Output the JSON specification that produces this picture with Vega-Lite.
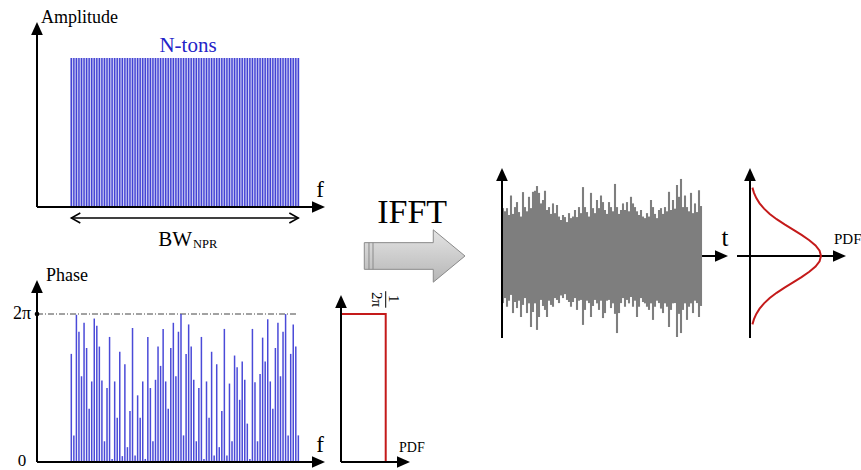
{
"$schema": "https://vega.github.io/schema/vega-lite/v6.json",
"width": 861, "height": 470, "padding": 0, "autosize": {"type": "none"},
"background": "white",
"config": {"view": {"stroke": null}, "text": {"font": "Liberation Serif", "color": "black"}},
"datasets": {
"tones": [
{"k":1,"amp":1,"phase":4.59},{"k":2,"amp":1,"phase":1.13},{"k":3,"amp":1,"phase":6.25},{"k":4,"amp":1,"phase":5.53},{"k":5,"amp":1,"phase":3.64},
{"k":6,"amp":1,"phase":5.91},{"k":7,"amp":1,"phase":4.84},{"k":8,"amp":1,"phase":2.26},{"k":9,"amp":1,"phase":3.42},{"k":10,"amp":1,"phase":6.09},
{"k":11,"amp":1,"phase":5.78},{"k":12,"amp":1,"phase":4.90},{"k":13,"amp":1,"phase":3.46},{"k":14,"amp":1,"phase":0.88},{"k":15,"amp":1,"phase":3.14},
{"k":16,"amp":1,"phase":5.31},{"k":17,"amp":1,"phase":0.13},{"k":18,"amp":1,"phase":3.42},{"k":19,"amp":1,"phase":1.88},{"k":20,"amp":1,"phase":4.68},
{"k":21,"amp":1,"phase":0.25},{"k":22,"amp":1,"phase":4.15},{"k":23,"amp":1,"phase":0.63},{"k":24,"amp":1,"phase":2.17},{"k":25,"amp":1,"phase":5.69},
{"k":26,"amp":1,"phase":0.28},{"k":27,"amp":1,"phase":2.83},{"k":28,"amp":1,"phase":1.88},{"k":29,"amp":1,"phase":3.42},{"k":30,"amp":1,"phase":0.13},
{"k":31,"amp":1,"phase":5.31},{"k":32,"amp":1,"phase":3.14},{"k":33,"amp":1,"phase":0.88},{"k":34,"amp":1,"phase":3.49},{"k":35,"amp":1,"phase":4.90},
{"k":36,"amp":1,"phase":4.08},{"k":37,"amp":1,"phase":5.65},{"k":38,"amp":1,"phase":3.42},{"k":39,"amp":1,"phase":2.26},{"k":40,"amp":1,"phase":4.84},
{"k":41,"amp":1,"phase":5.91},{"k":42,"amp":1,"phase":3.64},{"k":43,"amp":1,"phase":5.53},{"k":44,"amp":1,"phase":6.28},{"k":45,"amp":1,"phase":1.13},
{"k":46,"amp":1,"phase":4.59},{"k":47,"amp":1,"phase":5.84},{"k":48,"amp":1,"phase":4.90},{"k":49,"amp":1,"phase":3.49},{"k":50,"amp":1,"phase":0.88},
{"k":51,"amp":1,"phase":3.14},{"k":52,"amp":1,"phase":5.31},{"k":53,"amp":1,"phase":0.13},{"k":54,"amp":1,"phase":3.42},{"k":55,"amp":1,"phase":1.88},
{"k":56,"amp":1,"phase":4.68},{"k":57,"amp":1,"phase":0.28},{"k":58,"amp":1,"phase":4.15},{"k":59,"amp":1,"phase":0.63},{"k":60,"amp":1,"phase":2.17},
{"k":61,"amp":1,"phase":5.65},{"k":62,"amp":1,"phase":0.28},{"k":63,"amp":1,"phase":3.33},{"k":64,"amp":1,"phase":0.88},{"k":65,"amp":1,"phase":4.52},
{"k":66,"amp":1,"phase":4.02},{"k":67,"amp":1,"phase":2.64},{"k":68,"amp":1,"phase":4.27},{"k":69,"amp":1,"phase":3.49},{"k":70,"amp":1,"phase":1.63},
{"k":71,"amp":1,"phase":0.13},{"k":72,"amp":1,"phase":5.65},{"k":73,"amp":1,"phase":3.39},{"k":74,"amp":1,"phase":0.88},{"k":75,"amp":1,"phase":3.74},
{"k":76,"amp":1,"phase":5.28},{"k":77,"amp":1,"phase":4.27},{"k":78,"amp":1,"phase":6.06},{"k":79,"amp":1,"phase":3.42},{"k":80,"amp":1,"phase":2.26},
{"k":81,"amp":1,"phase":4.84},{"k":82,"amp":1,"phase":5.91},{"k":83,"amp":1,"phase":3.64},{"k":84,"amp":1,"phase":5.53},{"k":85,"amp":1,"phase":6.28},
{"k":86,"amp":1,"phase":1.13},{"k":87,"amp":1,"phase":4.59},{"k":88,"amp":1,"phase":5.84},{"k":89,"amp":1,"phase":4.90},{"k":90,"amp":1,"phase":1.13}
],
"uniform": [{"i":0,"p":0,"phase":6.2832},{"i":1,"p":0.15915,"phase":6.2832},{"i":2,"p":0.15915,"phase":0}],
"signal": [
{"t":0,"hi":1.82,"lo":-1.79},{"t":1,"hi":1.7,"lo":-1.6},{"t":2,"hi":1.82,"lo":-1.93},{"t":3,"hi":1.56,"lo":-1.7},{"t":4,"hi":2.3,"lo":-1.48},
{"t":5,"hi":1.6,"lo":-2.17},{"t":6,"hi":1.86,"lo":-1.75},{"t":7,"hi":2.05,"lo":-1.98},{"t":8,"hi":1.67,"lo":-1.7},{"t":9,"hi":1.5,"lo":-2.32},
{"t":10,"hi":2.43,"lo":-1.86},{"t":11,"hi":1.86,"lo":-1.6},{"t":12,"hi":1.7,"lo":-2.17},{"t":13,"hi":2.25,"lo":-1.8},{"t":14,"hi":1.82,"lo":-2.7},
{"t":15,"hi":2.44,"lo":-2.13},{"t":16,"hi":2.48,"lo":-1.8},{"t":17,"hi":2.66,"lo":-2.81},{"t":18,"hi":2.4,"lo":-2.32},{"t":19,"hi":2.0,"lo":-1.67},
{"t":20,"hi":2.13,"lo":-1.9},{"t":21,"hi":2.48,"lo":-2.05},{"t":22,"hi":1.75,"lo":-2.32},{"t":23,"hi":1.86,"lo":-1.7},{"t":24,"hi":1.6,"lo":-1.86},
{"t":25,"hi":2.0,"lo":-1.93},{"t":26,"hi":1.63,"lo":-1.6},{"t":27,"hi":1.94,"lo":-1.67},{"t":28,"hi":1.5,"lo":-1.79},{"t":29,"hi":1.37,"lo":-1.5},
{"t":30,"hi":1.56,"lo":-1.6},{"t":31,"hi":1.48,"lo":-1.45},{"t":32,"hi":1.29,"lo":-1.67},{"t":33,"hi":1.63,"lo":-1.75},{"t":34,"hi":1.44,"lo":-1.93},
{"t":35,"hi":1.5,"lo":-1.75},{"t":36,"hi":1.75,"lo":-1.6},{"t":37,"hi":1.48,"lo":-2.05},{"t":38,"hi":1.86,"lo":-1.7},{"t":39,"hi":1.63,"lo":-1.67},
{"t":40,"hi":2.62,"lo":-2.62},{"t":41,"hi":1.86,"lo":-2.05},{"t":42,"hi":1.67,"lo":-1.7},{"t":43,"hi":1.5,"lo":-1.79},{"t":44,"hi":2.4,"lo":-2.32},
{"t":45,"hi":1.82,"lo":-1.9},{"t":46,"hi":1.63,"lo":-1.67},{"t":47,"hi":2.13,"lo":-1.8},{"t":48,"hi":1.82,"lo":-2.05},{"t":49,"hi":2.3,"lo":-1.7},
{"t":50,"hi":2.05,"lo":-2.36},{"t":51,"hi":1.75,"lo":-2.17},{"t":52,"hi":1.6,"lo":-1.7},{"t":53,"hi":2.05,"lo":-1.67},{"t":54,"hi":1.86,"lo":-1.98},
{"t":55,"hi":1.7,"lo":-1.8},{"t":56,"hi":2.74,"lo":-2.2},{"t":57,"hi":1.86,"lo":-2.93},{"t":58,"hi":1.6,"lo":-2.17},{"t":59,"hi":1.75,"lo":-1.79},
{"t":60,"hi":2.0,"lo":-1.6},{"t":61,"hi":1.75,"lo":-1.93},{"t":62,"hi":2.05,"lo":-1.67},{"t":63,"hi":1.7,"lo":-1.8},{"t":64,"hi":2.25,"lo":-1.56},
{"t":65,"hi":2.0,"lo":-1.93},{"t":66,"hi":1.86,"lo":-1.7},{"t":67,"hi":1.7,"lo":-2.32},{"t":68,"hi":1.56,"lo":-1.93},{"t":69,"hi":1.75,"lo":-1.6},
{"t":70,"hi":1.5,"lo":-1.75},{"t":71,"hi":1.44,"lo":-1.8},{"t":72,"hi":1.63,"lo":-1.93},{"t":73,"hi":1.5,"lo":-2.05},{"t":74,"hi":2.13,"lo":-1.8},
{"t":75,"hi":1.86,"lo":-2.43},{"t":76,"hi":1.6,"lo":-1.93},{"t":77,"hi":1.44,"lo":-1.7},{"t":78,"hi":1.75,"lo":-1.79},{"t":79,"hi":1.82,"lo":-2.0},
{"t":80,"hi":1.6,"lo":-2.17},{"t":81,"hi":1.86,"lo":-1.8},{"t":82,"hi":1.7,"lo":-1.93},{"t":83,"hi":2.44,"lo":-2.7},{"t":84,"hi":1.75,"lo":-2.05},
{"t":85,"hi":2.13,"lo":-1.8},{"t":86,"hi":1.8,"lo":-1.79},{"t":87,"hi":2.7,"lo":-3.08},{"t":88,"hi":2.25,"lo":-2.2},{"t":89,"hi":2.93,"lo":-2.93},
{"t":90,"hi":1.86,"lo":-2.05},{"t":91,"hi":2.3,"lo":-1.8},{"t":92,"hi":1.86,"lo":-2.43},{"t":93,"hi":1.7,"lo":-1.93},{"t":94,"hi":2.4,"lo":-1.8},
{"t":95,"hi":1.63,"lo":-2.17},{"t":96,"hi":2.0,"lo":-1.7},{"t":97,"hi":1.67,"lo":-1.79},{"t":98,"hi":2.5,"lo":-2.32},{"t":99,"hi":1.9,"lo":-1.9}
],
"gauss": [
{"v":-2.6,"pdf":0.034},{"v":-2.4,"pdf":0.056},{"v":-2.2,"pdf":0.089},{"v":-2.0,"pdf":0.135},{"v":-1.8,"pdf":0.198},{"v":-1.6,"pdf":0.278},
{"v":-1.4,"pdf":0.375},{"v":-1.2,"pdf":0.487},{"v":-1.0,"pdf":0.607},{"v":-0.8,"pdf":0.726},{"v":-0.6,"pdf":0.835},{"v":-0.4,"pdf":0.923},
{"v":-0.2,"pdf":0.980},{"v":0,"pdf":1},{"v":0.2,"pdf":0.980},{"v":0.4,"pdf":0.923},{"v":0.6,"pdf":0.835},{"v":0.8,"pdf":0.726},
{"v":1.0,"pdf":0.607},{"v":1.2,"pdf":0.487},{"v":1.4,"pdf":0.375},{"v":1.6,"pdf":0.278},{"v":1.8,"pdf":0.198},{"v":2.0,"pdf":0.135},
{"v":2.2,"pdf":0.089},{"v":2.4,"pdf":0.056},{"v":2.6,"pdf":0.034}
]
},
"resolve": {"scale": {"x": "independent", "y": "independent"}},
"layer": [
{"layer": [
 {"data": {"values": [{"k0": 0.5, "k1": 90.5, "a0": 0, "a1": 1}]}, "mark": {"type": "rect", "color": "#cdcdf3"},
  "encoding": {"x": {"field": "k0", "type": "quantitative", "scale": {"domain": [-26.95, 310.56], "nice": false, "zero": false}, "axis": null}, "x2": {"field": "k1"},
   "y": {"field": "a0", "type": "quantitative", "scale": {"domain": [-1.7651, 1.3893], "nice": false, "zero": false}, "axis": null}, "y2": {"field": "a1"}}},
 {"data": {"name": "tones"}, "mark": {"type": "rule", "orient": "vertical", "color": "#4242d4", "strokeWidth": 1.4},
  "encoding": {"x": {"field": "k", "type": "quantitative", "scale": {"domain": [-26.95, 310.56], "nice": false, "zero": false}, "axis": null},
   "y": {"field": "amp", "type": "quantitative", "scale": {"domain": [-1.7651, 1.3893], "nice": false, "zero": false}, "axis": null}}},
 {"data": {"values": [{"seg": "y", "k": -12.45, "amp": 0}, {"seg": "y", "k": -12.45, "amp": 1.2}, {"seg": "x", "k": -12.45, "amp": 0}, {"seg": "x", "k": 96, "amp": 0}]},
  "mark": {"type": "line", "color": "black", "strokeWidth": 2},
  "encoding": {"x": {"field": "k", "type": "quantitative", "scale": {"domain": [-26.95, 310.56], "nice": false, "zero": false}, "axis": null},
   "y": {"field": "amp", "type": "quantitative", "scale": {"domain": [-1.7651, 1.3893], "nice": false, "zero": false}, "axis": null},
   "detail": {"field": "seg", "type": "nominal"}}},
 {"data": {"values": [{"k": 1, "amp": -0.0738}, {"k": 90, "amp": -0.0738}]},
  "mark": {"type": "line", "color": "black", "strokeWidth": 1.5},
  "encoding": {"x": {"field": "k", "type": "quantitative", "scale": {"domain": [-26.95, 310.56], "nice": false, "zero": false}, "axis": null},
   "y": {"field": "amp", "type": "quantitative", "scale": {"domain": [-1.7651, 1.3893], "nice": false, "zero": false}, "axis": null}}},
 {"data": {"values": [{}]}, "mark": {"type": "point", "shape": "M 0 0 L 0.45 1 L -0.45 1 Z", "size": 676, "filled": true, "color": "black", "opacity": 1, "strokeWidth": 0},
  "encoding": {"x": {"datum": -12.45, "type": "quantitative", "scale": {"domain": [-26.95, 310.56], "nice": false, "zero": false}, "axis": null},
   "y": {"datum": 1.2416, "type": "quantitative", "scale": {"domain": [-1.7651, 1.3893], "nice": false, "zero": false}, "axis": null}}},
 {"data": {"values": [{}]}, "mark": {"type": "point", "shape": "M 0 0 L -1 -0.45 L -1 0.45 Z", "size": 676, "filled": true, "color": "black", "opacity": 1, "strokeWidth": 0},
  "encoding": {"x": {"datum": 100.45, "type": "quantitative", "scale": {"domain": [-26.95, 310.56], "nice": false, "zero": false}, "axis": null},
   "y": {"datum": 0, "type": "quantitative", "scale": {"domain": [-1.7651, 1.3893], "nice": false, "zero": false}, "axis": null}}},
 {"data": {"values": [{}]}, "mark": {"type": "point", "shape": "M 1.8 -1 L 0 0 L 1.8 1", "size": 100, "filled": false, "color": "black", "opacity": 1, "strokeWidth": 1.5},
  "encoding": {"x": {"datum": 1, "type": "quantitative", "scale": {"domain": [-26.95, 310.56], "nice": false, "zero": false}, "axis": null},
   "y": {"datum": -0.0738, "type": "quantitative", "scale": {"domain": [-1.7651, 1.3893], "nice": false, "zero": false}, "axis": null}}},
 {"data": {"values": [{}]}, "mark": {"type": "point", "shape": "M -1.8 -1 L 0 0 L -1.8 1", "size": 100, "filled": false, "color": "black", "opacity": 1, "strokeWidth": 1.5},
  "encoding": {"x": {"datum": 90, "type": "quantitative", "scale": {"domain": [-26.95, 310.56], "nice": false, "zero": false}, "axis": null},
   "y": {"datum": -0.0738, "type": "quantitative", "scale": {"domain": [-1.7651, 1.3893], "nice": false, "zero": false}, "axis": null}}},
 {"data": {"values": [{}]}, "mark": {"type": "text", "text": "Amplitude", "align": "left", "baseline": "alphabetic", "fontSize": 18, "font": "Liberation Serif"},
  "encoding": {"x": {"datum": -10.88, "type": "quantitative", "scale": {"domain": [-26.95, 310.56], "nice": false, "zero": false}, "axis": null},
   "y": {"datum": 1.235, "type": "quantitative", "scale": {"domain": [-1.7651, 1.3893], "nice": false, "zero": false}, "axis": null}}},
 {"data": {"values": [{}]}, "mark": {"type": "text", "text": "N-tons", "align": "center", "baseline": "alphabetic", "fontSize": 21, "color": "#2424c8", "font": "Liberation Serif"},
  "encoding": {"x": {"datum": 46.75, "type": "quantitative", "scale": {"domain": [-26.95, 310.56], "nice": false, "zero": false}, "axis": null},
   "y": {"datum": 1.0403, "type": "quantitative", "scale": {"domain": [-1.7651, 1.3893], "nice": false, "zero": false}, "axis": null}}},
 {"data": {"values": [{}]}, "mark": {"type": "text", "text": "f", "align": "center", "baseline": "alphabetic", "fontSize": 23, "font": "Liberation Serif"},
  "encoding": {"x": {"datum": 98.49, "type": "quantitative", "scale": {"domain": [-26.95, 310.56], "nice": false, "zero": false}, "axis": null},
   "y": {"datum": 0.0671, "type": "quantitative", "scale": {"domain": [-1.7651, 1.3893], "nice": false, "zero": false}, "axis": null}}},
 {"data": {"values": [{}]}, "mark": {"type": "text", "text": "BW", "align": "right", "baseline": "alphabetic", "fontSize": 21, "font": "Liberation Serif"},
  "encoding": {"x": {"datum": 48.31, "type": "quantitative", "scale": {"domain": [-26.95, 310.56], "nice": false, "zero": false}, "axis": null},
   "y": {"datum": -0.2617, "type": "quantitative", "scale": {"domain": [-1.7651, 1.3893], "nice": false, "zero": false}, "axis": null}}},
 {"data": {"values": [{}]}, "mark": {"type": "text", "text": "NPR", "align": "left", "baseline": "alphabetic", "fontSize": 12.5, "font": "Liberation Serif"},
  "encoding": {"x": {"datum": 48.7, "type": "quantitative", "scale": {"domain": [-26.95, 310.56], "nice": false, "zero": false}, "axis": null},
   "y": {"datum": -0.2752, "type": "quantitative", "scale": {"domain": [-1.7651, 1.3893], "nice": false, "zero": false}, "axis": null}}}
]},
{"layer": [
 {"data": {"values": [{"k": -12.45, "phase": 6.2832}, {"k": 89.87, "phase": 6.2832}]},
  "mark": {"type": "line", "color": "#444444", "strokeWidth": 1, "strokeDash": [6, 2, 1, 2]},
  "encoding": {"x": {"field": "k", "type": "quantitative", "scale": {"domain": [-26.95, 310.56], "nice": false, "zero": false}, "axis": null},
   "y": {"field": "phase", "type": "quantitative", "scale": {"domain": [-0.3396, 19.614], "nice": false, "zero": false}, "axis": null}}},
 {"data": {"name": "tones"}, "mark": {"type": "rule", "orient": "vertical", "color": "#4a4ad8", "strokeWidth": 1.5},
  "encoding": {"x": {"field": "k", "type": "quantitative", "scale": {"domain": [-26.95, 310.56], "nice": false, "zero": false}, "axis": null},
   "y": {"field": "phase", "type": "quantitative", "scale": {"domain": [-0.3396, 19.614], "nice": false, "zero": false}, "axis": null}}},
 {"data": {"values": [{"seg": "y", "k": -12.45, "phase": 0}, {"seg": "y", "k": -12.45, "phase": 7.2}, {"seg": "x", "k": -12.45, "phase": 0}, {"seg": "x", "k": 96, "phase": 0}]},
  "mark": {"type": "line", "color": "black", "strokeWidth": 2},
  "encoding": {"x": {"field": "k", "type": "quantitative", "scale": {"domain": [-26.95, 310.56], "nice": false, "zero": false}, "axis": null},
   "y": {"field": "phase", "type": "quantitative", "scale": {"domain": [-0.3396, 19.614], "nice": false, "zero": false}, "axis": null},
   "detail": {"field": "seg", "type": "nominal"}}},
 {"data": {"values": [{}]}, "mark": {"type": "point", "shape": "M 0 0 L 0.45 1 L -0.45 1 Z", "size": 676, "filled": true, "color": "black", "opacity": 1, "strokeWidth": 0},
  "encoding": {"x": {"datum": -12.45, "type": "quantitative", "scale": {"domain": [-26.95, 310.56], "nice": false, "zero": false}, "axis": null},
   "y": {"datum": 7.727, "type": "quantitative", "scale": {"domain": [-0.3396, 19.614], "nice": false, "zero": false}, "axis": null}}},
 {"data": {"values": [{}]}, "mark": {"type": "point", "shape": "M 0 0 L -1 -0.45 L -1 0.45 Z", "size": 676, "filled": true, "color": "black", "opacity": 1, "strokeWidth": 0},
  "encoding": {"x": {"datum": 100.45, "type": "quantitative", "scale": {"domain": [-26.95, 310.56], "nice": false, "zero": false}, "axis": null},
   "y": {"datum": 0, "type": "quantitative", "scale": {"domain": [-0.3396, 19.614], "nice": false, "zero": false}, "axis": null}}},
 {"data": {"values": [{}]}, "mark": {"type": "point", "shape": "circle", "size": 22, "filled": true, "color": "black", "opacity": 1},
  "encoding": {"x": {"datum": -12.45, "type": "quantitative", "scale": {"domain": [-26.95, 310.56], "nice": false, "zero": false}, "axis": null},
   "y": {"datum": 6.2832, "type": "quantitative", "scale": {"domain": [-0.3396, 19.614], "nice": false, "zero": false}, "axis": null}}},
 {"data": {"values": [{}]}, "mark": {"type": "text", "text": "Phase", "align": "left", "baseline": "alphabetic", "fontSize": 18, "font": "Liberation Serif"},
  "encoding": {"x": {"datum": -8.92, "type": "quantitative", "scale": {"domain": [-26.95, 310.56], "nice": false, "zero": false}, "axis": null},
   "y": {"datum": 7.684, "type": "quantitative", "scale": {"domain": [-0.3396, 19.614], "nice": false, "zero": false}, "axis": null}}},
 {"data": {"values": [{}]}, "mark": {"type": "text", "text": "2π", "align": "right", "baseline": "alphabetic", "fontSize": 18, "font": "Liberation Serif"},
  "encoding": {"x": {"datum": -14.8, "type": "quantitative", "scale": {"domain": [-26.95, 310.56], "nice": false, "zero": false}, "axis": null},
   "y": {"datum": 6.071, "type": "quantitative", "scale": {"domain": [-0.3396, 19.614], "nice": false, "zero": false}, "axis": null}}},
 {"data": {"values": [{}]}, "mark": {"type": "text", "text": "0", "align": "center", "baseline": "alphabetic", "fontSize": 17, "font": "Liberation Serif"},
  "encoding": {"x": {"datum": -18.33, "type": "quantitative", "scale": {"domain": [-26.95, 310.56], "nice": false, "zero": false}, "axis": null},
   "y": {"datum": -0.17, "type": "quantitative", "scale": {"domain": [-0.3396, 19.614], "nice": false, "zero": false}, "axis": null}}},
 {"data": {"values": [{}]}, "mark": {"type": "text", "text": "f", "align": "center", "baseline": "alphabetic", "fontSize": 23, "font": "Liberation Serif"},
  "encoding": {"x": {"datum": 98.49, "type": "quantitative", "scale": {"domain": [-26.95, 310.56], "nice": false, "zero": false}, "axis": null},
   "y": {"datum": 0.4245, "type": "quantitative", "scale": {"domain": [-0.3396, 19.614], "nice": false, "zero": false}, "axis": null}}}
]},
{"layer": [
 {"data": {"name": "uniform"}, "mark": {"type": "line", "color": "#c41a1a", "strokeWidth": 2},
  "encoding": {"x": {"field": "p", "type": "quantitative", "scale": {"domain": [-1.214, 1.8512], "nice": false, "zero": false}, "axis": null},
   "y": {"field": "phase", "type": "quantitative", "scale": {"domain": [-0.3396, 19.614], "nice": false, "zero": false}, "axis": null},
   "order": {"field": "i", "type": "quantitative"}}},
 {"data": {"values": [{"seg": "y", "p": 0, "phase": 0}, {"seg": "y", "p": 0, "phase": 6.55}, {"seg": "x", "p": 0, "phase": 0}, {"seg": "x", "p": 0.203, "phase": 0}]},
  "mark": {"type": "line", "color": "black", "strokeWidth": 2},
  "encoding": {"x": {"field": "p", "type": "quantitative", "scale": {"domain": [-1.214, 1.8512], "nice": false, "zero": false}, "axis": null},
   "y": {"field": "phase", "type": "quantitative", "scale": {"domain": [-0.3396, 19.614], "nice": false, "zero": false}, "axis": null},
   "detail": {"field": "seg", "type": "nominal"}}},
 {"data": {"values": [{"p": 0.15915, "phase": 6.55}, {"p": 0.15915, "phase": 7.25}]},
  "mark": {"type": "line", "color": "black", "strokeWidth": 1},
  "encoding": {"x": {"field": "p", "type": "quantitative", "scale": {"domain": [-1.214, 1.8512], "nice": false, "zero": false}, "axis": null},
   "y": {"field": "phase", "type": "quantitative", "scale": {"domain": [-0.3396, 19.614], "nice": false, "zero": false}, "axis": null}}},
 {"data": {"values": [{}]}, "mark": {"type": "point", "shape": "M 0 0 L 0.45 1 L -0.45 1 Z", "size": 676, "filled": true, "color": "black", "opacity": 1, "strokeWidth": 0},
  "encoding": {"x": {"datum": 0, "type": "quantitative", "scale": {"domain": [-1.214, 1.8512], "nice": false, "zero": false}, "axis": null},
   "y": {"datum": 7.09, "type": "quantitative", "scale": {"domain": [-0.3396, 19.614], "nice": false, "zero": false}, "axis": null}}},
 {"data": {"values": [{}]}, "mark": {"type": "point", "shape": "M 0 0 L -1 -0.45 L -1 0.45 Z", "size": 676, "filled": true, "color": "black", "opacity": 1, "strokeWidth": 0},
  "encoding": {"x": {"datum": 0.2456, "type": "quantitative", "scale": {"domain": [-1.214, 1.8512], "nice": false, "zero": false}, "axis": null},
   "y": {"datum": 0, "type": "quantitative", "scale": {"domain": [-0.3396, 19.614], "nice": false, "zero": false}, "axis": null}}},
 {"data": {"values": [{}]}, "mark": {"type": "text", "text": "1", "align": "center", "baseline": "middle", "angle": 90, "fontSize": 15, "font": "Liberation Serif"},
  "encoding": {"x": {"datum": 0.1875, "type": "quantitative", "scale": {"domain": [-1.214, 1.8512], "nice": false, "zero": false}, "axis": null},
   "y": {"datum": 6.93, "type": "quantitative", "scale": {"domain": [-0.3396, 19.614], "nice": false, "zero": false}, "axis": null}}},
 {"data": {"values": [{}]}, "mark": {"type": "text", "text": "2π", "align": "center", "baseline": "middle", "angle": 90, "fontSize": 15, "font": "Liberation Serif"},
  "encoding": {"x": {"datum": 0.1265, "type": "quantitative", "scale": {"domain": [-1.214, 1.8512], "nice": false, "zero": false}, "axis": null},
   "y": {"datum": 6.9, "type": "quantitative", "scale": {"domain": [-0.3396, 19.614], "nice": false, "zero": false}, "axis": null}}},
 {"data": {"values": [{}]}, "mark": {"type": "text", "text": "PDF", "align": "left", "baseline": "alphabetic", "fontSize": 14, "font": "Liberation Serif"},
  "encoding": {"x": {"datum": 0.2065, "type": "quantitative", "scale": {"domain": [-1.214, 1.8512], "nice": false, "zero": false}, "axis": null},
   "y": {"datum": 0.4245, "type": "quantitative", "scale": {"domain": [-0.3396, 19.614], "nice": false, "zero": false}, "axis": null}}}
]},
{"layer": [
 {"data": {"values": [{}]}, "mark": {"type": "point", "shape": "M -1 -0.265 L 0.37 -0.265 L 0.37 -0.52 L 1 0 L 0.37 0.52 L 0.37 0.265 L -1 0.265 Z", "size": 10140, "filled": true, "opacity": 1,
   "fill": {"gradient": "linear", "x1": 0, "y1": 0, "x2": 0, "y2": 1, "stops": [{"offset": 0, "color": "#e4e4e4"}, {"offset": 1, "color": "#b6b6b6"}]},
   "stroke": "#8a8a8a", "strokeWidth": 1},
  "encoding": {"x": {"datum": 0, "type": "quantitative", "scale": {"domain": [-8.235, 8.865], "nice": false, "zero": false}, "axis": null},
   "y": {"datum": 0, "type": "quantitative", "scale": {"domain": [-4.25, 5.084], "nice": false, "zero": false}, "axis": null}}},
 {"data": {"values": [{}]}, "mark": {"type": "point", "shape": "M -0.907 -0.265 L -0.907 0.265 M -0.827 -0.265 L -0.827 0.265", "size": 10140, "filled": false, "opacity": 1, "color": "#8a8a8a", "strokeWidth": 1},
  "encoding": {"x": {"datum": 0, "type": "quantitative", "scale": {"domain": [-8.235, 8.865], "nice": false, "zero": false}, "axis": null},
   "y": {"datum": 0, "type": "quantitative", "scale": {"domain": [-4.25, 5.084], "nice": false, "zero": false}, "axis": null}}},
 {"data": {"values": [{}]}, "mark": {"type": "text", "text": "IFFT", "align": "center", "baseline": "alphabetic", "fontSize": 34, "font": "Liberation Serif"},
  "encoding": {"x": {"datum": -0.05, "type": "quantitative", "scale": {"domain": [-8.235, 8.865], "nice": false, "zero": false}, "axis": null},
   "y": {"datum": 0.655, "type": "quantitative", "scale": {"domain": [-4.25, 5.084], "nice": false, "zero": false}, "axis": null}}}
]},
{"layer": [
 {"data": {"values": [{"t": -0.5, "v": 0}, {"t": 106.5, "v": 0}]},
  "mark": {"type": "line", "color": "black", "strokeWidth": 2},
  "encoding": {"x": {"field": "t", "type": "quantitative", "scale": {"domain": [-251.5, 179], "nice": false, "zero": false}, "axis": null},
   "y": {"field": "v", "type": "quantitative", "scale": {"domain": [-8.137, 9.734], "nice": false, "zero": false}, "axis": null}}},
 {"data": {"name": "signal"}, "mark": {"type": "rule", "color": "#7e7e7e", "strokeWidth": 2.1},
  "encoding": {"x": {"field": "t", "type": "quantitative", "scale": {"domain": [-251.5, 179], "nice": false, "zero": false}, "axis": null},
   "y": {"field": "lo", "type": "quantitative", "scale": {"domain": [-8.137, 9.734], "nice": false, "zero": false}, "axis": null}, "y2": {"field": "hi"}}},
 {"data": {"values": [{"t": -0.5, "v": -3.118}, {"t": -0.5, "v": 2.852}]},
  "mark": {"type": "line", "color": "black", "strokeWidth": 2},
  "encoding": {"x": {"field": "t", "type": "quantitative", "scale": {"domain": [-251.5, 179], "nice": false, "zero": false}, "axis": null},
   "y": {"field": "v", "type": "quantitative", "scale": {"domain": [-8.137, 9.734], "nice": false, "zero": false}, "axis": null}}},
 {"data": {"values": [{}]}, "mark": {"type": "point", "shape": "M 0 0 L 0.45 1 L -0.45 1 Z", "size": 676, "filled": true, "color": "black", "opacity": 1, "strokeWidth": 0},
  "encoding": {"x": {"datum": -0.5, "type": "quantitative", "scale": {"domain": [-251.5, 179], "nice": false, "zero": false}, "axis": null},
   "y": {"datum": 3.346, "type": "quantitative", "scale": {"domain": [-8.137, 9.734], "nice": false, "zero": false}, "axis": null}}},
 {"data": {"values": [{}]}, "mark": {"type": "point", "shape": "M 0 0 L -1 -0.45 L -1 0.45 Z", "size": 676, "filled": true, "color": "black", "opacity": 1, "strokeWidth": 0},
  "encoding": {"x": {"datum": 112.5, "type": "quantitative", "scale": {"domain": [-251.5, 179], "nice": false, "zero": false}, "axis": null},
   "y": {"datum": 0, "type": "quantitative", "scale": {"domain": [-8.137, 9.734], "nice": false, "zero": false}, "axis": null}}},
 {"data": {"values": [{}]}, "mark": {"type": "text", "text": "t", "align": "center", "baseline": "alphabetic", "fontSize": 25, "font": "Liberation Serif"},
  "encoding": {"x": {"datum": 111, "type": "quantitative", "scale": {"domain": [-251.5, 179], "nice": false, "zero": false}, "axis": null},
   "y": {"datum": 0.38, "type": "quantitative", "scale": {"domain": [-8.137, 9.734], "nice": false, "zero": false}, "axis": null}}}
]},
{"layer": [
 {"data": {"values": [{"seg": "y", "pdf": 0, "v": -3.118}, {"seg": "y", "pdf": 0, "v": 2.852}, {"seg": "x", "pdf": -0.183, "v": 0}, {"seg": "x", "pdf": 1.183, "v": 0}]},
  "mark": {"type": "line", "color": "black", "strokeWidth": 2},
  "encoding": {"x": {"field": "pdf", "type": "quantitative", "scale": {"domain": [-10.563, 1.5634], "nice": false, "zero": false}, "axis": null},
   "y": {"field": "v", "type": "quantitative", "scale": {"domain": [-8.137, 9.734], "nice": false, "zero": false}, "axis": null},
   "detail": {"field": "seg", "type": "nominal"}}},
 {"data": {"values": [{}]}, "mark": {"type": "point", "shape": "M 0 0 L 0.45 1 L -0.45 1 Z", "size": 676, "filled": true, "color": "black", "opacity": 1, "strokeWidth": 0},
  "encoding": {"x": {"datum": 0, "type": "quantitative", "scale": {"domain": [-10.563, 1.5634], "nice": false, "zero": false}, "axis": null},
   "y": {"datum": 3.346, "type": "quantitative", "scale": {"domain": [-8.137, 9.734], "nice": false, "zero": false}, "axis": null}}},
 {"data": {"values": [{}]}, "mark": {"type": "point", "shape": "M 0 0 L -1 -0.45 L -1 0.45 Z", "size": 676, "filled": true, "color": "black", "opacity": 1, "strokeWidth": 0},
  "encoding": {"x": {"datum": 1.352, "type": "quantitative", "scale": {"domain": [-10.563, 1.5634], "nice": false, "zero": false}, "axis": null},
   "y": {"datum": 0, "type": "quantitative", "scale": {"domain": [-8.137, 9.734], "nice": false, "zero": false}, "axis": null}}},
 {"data": {"name": "gauss"}, "mark": {"type": "line", "color": "#c41a1a", "strokeWidth": 2},
  "encoding": {"x": {"field": "pdf", "type": "quantitative", "scale": {"domain": [-10.563, 1.5634], "nice": false, "zero": false}, "axis": null},
   "y": {"field": "v", "type": "quantitative", "scale": {"domain": [-8.137, 9.734], "nice": false, "zero": false}, "axis": null},
   "order": {"field": "v", "type": "quantitative"}}},
 {"data": {"values": [{}]}, "mark": {"type": "text", "text": "PDF", "align": "left", "baseline": "alphabetic", "fontSize": 15, "font": "Liberation Serif"},
  "encoding": {"x": {"datum": 1.183, "type": "quantitative", "scale": {"domain": [-10.563, 1.5634], "nice": false, "zero": false}, "axis": null},
   "y": {"datum": 0.456, "type": "quantitative", "scale": {"domain": [-8.137, 9.734], "nice": false, "zero": false}, "axis": null}}}
]}
]
}
